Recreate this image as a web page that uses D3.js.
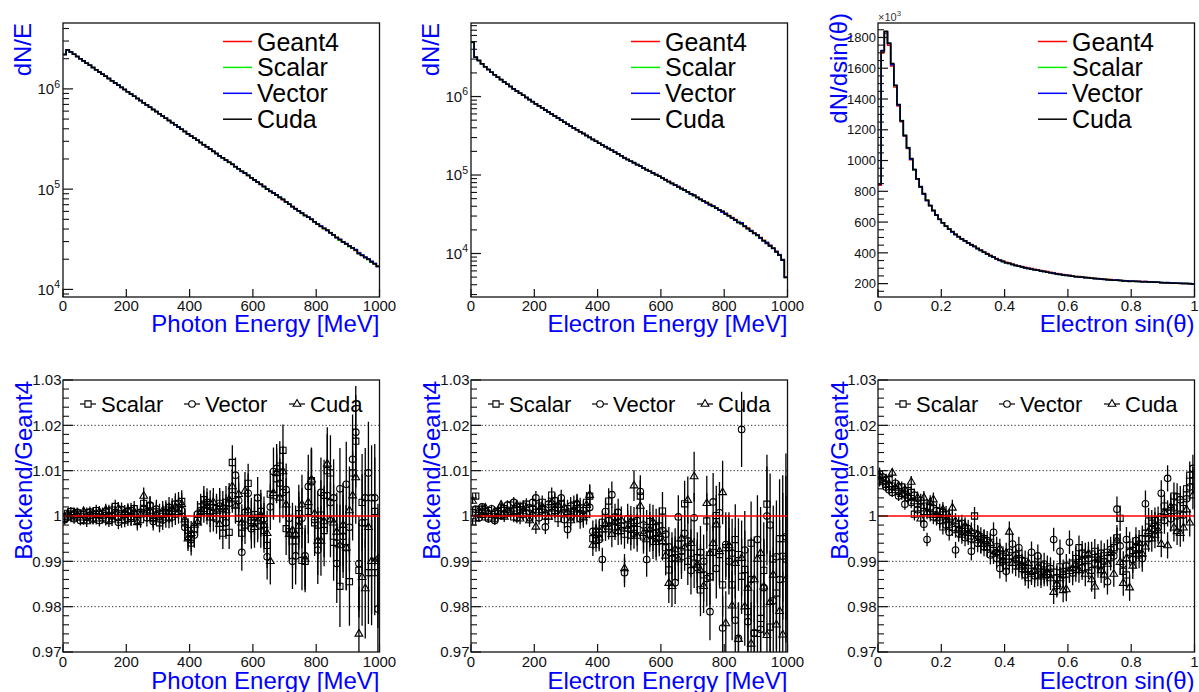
<!DOCTYPE html>
<html>
<head>
<meta charset="utf-8">
<script src="https://cdn.jsdelivr.net/npm/d3@7"></script>
<style>
  body { margin: 0; background: #fff; }
  svg { display: block; font-family: "Liberation Sans", Arial, Helvetica, sans-serif; }
</style>
</head>
<body>
<svg id="chart" width="1199" height="692"></svg>
<script>
// ---- data (100 bins per histogram) ----
const backends = ['Scalar', 'Vector', 'Cuda'];
const histSeries = ['Geant4', 'Scalar', 'Vector', 'Cuda'];
const energyRange = [0, 1000];   // MeV
const sinRange = [0, 1];

// Geant4 spectra, counts per bin in thousands
const photonG4k = [
  2200, 2450, 2329, 2214, 2104, 2000, 1901, 1807, 1718, 1633,
  1553, 1476, 1403, 1334, 1268, 1205, 1146, 1089, 1035, 984,
  936, 889, 845, 804, 764, 726, 690, 656, 624, 593,
  564, 536, 509, 484, 460, 438, 416, 395, 376, 357,
  340, 323, 307, 292, 277, 264, 251, 238, 227, 215,
  205, 195, 185, 176, 167, 159, 151, 144, 137, 130,
  123.6, 117.5, 111.7, 106.2, 100.9, 95.9, 91.2, 86.7, 82.4, 78.3,
  74.5, 70.8, 67.3, 64.0, 60.8, 57.8, 55.0, 52.3, 49.7, 47.2,
  44.9, 42.7, 40.6, 38.6, 36.7, 34.9, 33.1, 31.5, 29.9, 28.5,
  27.1, 25.7, 24.5, 23.3, 22.1, 21.0, 20.0, 19.0, 18.1, 17.2];
const electronG4k = [
  4900, 3160, 2870, 2620, 2400, 2210, 2040, 1890, 1760, 1640,
  1530, 1430, 1340, 1250, 1170, 1100, 1035, 973, 914, 859,
  807, 760, 716, 675, 635, 598, 564, 531, 500, 471,
  444, 420, 397, 376, 356, 337, 318, 301, 285, 270,
  255, 242, 230, 218, 207, 196, 186, 176, 167, 158,
  150, 142.9, 136.1, 129.6, 123.4, 117.5, 111.9, 106.6, 101.5, 96.7,
  92.1, 87.5, 83.1, 78.9, 74.9, 71.2, 67.6, 64.2, 61.0, 57.9,
  55.0, 52.2, 49.5, 47.0, 44.6, 42.3, 40.1, 38.1, 36.1, 34.3,
  32.5, 30.5, 28.8, 27.1, 25.6, 24.1, 22.5, 21.1, 19.7, 18.4,
  17.3, 16.0, 14.8, 13.8, 12.7, 11.8, 10.7, 9.7, 8.4, 5.0];
const sinThetaG4k = [
  840, 1700, 1825, 1750, 1615, 1478, 1355, 1252, 1158, 1078,
  1005, 938, 878, 828, 783, 742, 706, 674, 645, 618,
  595, 574, 555, 537, 521, 506, 492, 479, 466, 454,
  443, 430, 418, 406, 395, 384, 374, 364, 355, 347,
  339, 333, 327, 321, 316, 311, 306, 302, 298, 294,
  290, 286, 282, 278, 274, 270, 266, 263, 260, 257,
  254, 251, 248, 246, 244, 242, 240, 238, 236, 234,
  232, 230, 228, 226, 224, 223, 222, 221, 219, 218,
  217, 216, 215, 214, 213, 212, 211, 210, 209, 207,
  206, 205, 204, 203, 203, 202, 201, 200, 199, 196];

// Backend / Geant4 ratios
const photonScalar = [
  0.9995, 1.0006, 1.0010, 1.0002, 0.9998, 1.0004, 0.9992, 1.0007, 1.0001, 0.9993,
  1.0012, 1.0003, 0.9996, 1.0009, 0.9990, 1.0013, 1.0021, 0.9997, 1.0006, 0.9991,
  1.0010, 0.9995, 1.0016, 1.0004, 0.9992, 1.0028, 1.0006, 1.0022, 0.9994, 1.0009,
  0.9985, 1.0004, 1.0013, 0.9996, 1.0010, 1.0026, 1.0018, 1.0032, 0.9985, 0.9955,
  0.9948, 0.9972, 0.9990, 1.0020, 1.0036, 1.0012, 1.0025, 0.9998, 1.0016, 1.0028,
  0.9962, 1.0030, 0.9964, 1.0118, 1.0026, 0.9995, 0.9962, 0.9980, 1.0072, 0.9990,
  1.0003, 0.9996, 1.0010, 0.9968, 0.9935, 1.0048, 1.0045, 1.0082, 1.0110, 1.0145,
  0.9972, 0.9965, 0.9945, 0.9945, 1.0005, 0.9902, 0.9900, 1.0010, 1.0078, 0.9985,
  0.9980, 1.0002, 0.9968, 1.0100, 1.0095, 0.9942, 0.9940, 0.9845, 0.9968, 0.9930,
  0.9855, 1.0095, 1.0165, 0.9880, 1.0030, 0.9985, 0.9875, 0.9875, 1.0010, 0.9875];
const photonVector = [
  0.9992, 0.9998, 1.0002, 0.9994, 1.0008, 0.9990, 1.0003, 0.9997, 1.0009, 0.9995,
  1.0004, 0.9990, 1.0006, 0.9993, 1.0011, 1.0000, 1.0007, 0.9986, 1.0014, 1.0003,
  0.9994, 1.0012, 1.0005, 0.9990, 1.0008, 1.0017, 0.9996, 1.0024, 0.9988, 1.0015,
  1.0006, 0.9991, 1.0008, 1.0019, 0.9998, 1.0004, 1.0028, 1.0012, 0.9975, 0.9968,
  0.9940, 0.9958, 1.0004, 1.0012, 1.0026, 1.0030, 1.0008, 1.0019, 0.9994, 1.0022,
  1.0004, 0.9985, 1.0028, 1.0045, 1.0090, 1.0034, 0.9920, 1.0008, 1.0050, 0.9972,
  0.9985, 1.0040, 0.9978, 0.9994, 0.9910, 1.0020, 1.0098, 1.0105, 1.0072, 1.0052,
  1.0058, 0.9995, 0.9900, 0.9912, 0.9990, 0.9995, 0.9912, 1.0065, 1.0075, 0.9992,
  0.9925, 1.0052, 1.0045, 1.0045, 1.0030, 1.0040, 0.9895, 1.0060, 0.9955, 1.0070,
  0.9975, 1.0125, 1.0185, 0.9895, 0.9985, 1.0040, 1.0095, 1.0040, 1.0040, 0.9795];
const photonCuda = [
  0.9998, 1.0004, 0.9996, 1.0007, 1.0002, 0.9996, 1.0010, 0.9988, 1.0003, 1.0006,
  0.9994, 1.0009, 0.9999, 1.0013, 1.0002, 0.9992, 1.0005, 1.0016, 0.9990, 1.0008,
  1.0012, 0.9997, 1.0009, 0.9986, 1.0003, 1.0044, 1.0012, 1.0010, 0.9995, 1.0003,
  0.9992, 1.0011, 0.9996, 1.0007, 1.0016, 1.0020, 1.0008, 1.0026, 0.9992, 0.9950,
  0.9962, 0.9980, 0.9985, 1.0008, 1.0015, 1.0022, 0.9996, 1.0030, 1.0011, 0.9982,
  1.0020, 1.0012, 1.0036, 1.0065, 1.0022, 1.0048, 0.9985, 1.0055, 1.0012, 0.9996,
  0.9975, 0.9988, 1.0002, 0.9980, 0.9962, 0.9900, 1.0050, 1.0095, 1.0040, 1.0098,
  1.0025, 0.9960, 0.9968, 0.9960, 0.9978, 1.0025, 0.9905, 1.0030, 1.0080, 1.0005,
  0.9945, 0.9945, 0.9988, 1.0115, 0.9992, 0.9985, 0.9965, 0.9935, 0.9980, 0.9930,
  1.0012, 1.0045, 1.0085, 0.9740, 0.9865, 0.9840, 0.9975, 0.9900, 0.9900, 0.9905];
const photonErr = [
  .0011, .0010, .0010, .0011, .0011, .0011, .0011, .0012, .0012, .0012,
  .0013, .0013, .0013, .0014, .0014, .0014, .0015, .0015, .0016, .0016,
  .0016, .0017, .0017, .0018, .0018, .0019, .0019, .0020, .0020, .0021,
  .0021, .0022, .0022, .0023, .0023, .0024, .0025, .0025, .0026, .0027,
  .0027, .0028, .0029, .0029, .0030, .0031, .0032, .0032, .0033, .0034,
  .0035, .0036, .0037, .0038, .0039, .0040, .0041, .0042, .0043, .0044,
  .0045, .0046, .0048, .0049, .0050, .0051, .0053, .0054, .0055, .0057,
  .0058, .0060, .0061, .0063, .0064, .0066, .0068, .0070, .0071, .0073,
  .0075, .0077, .0079, .0081, .0083, .0085, .0087, .0090, .0092, .0094,
  .0097, .0099, .0102, .0104, .0107, .0110, .0113, .0116, .0119, .0122];

const electronScalar = [
  0.9987, 1.0044, 1.0006, 1.0015, 0.9998, 1.0012, 1.0004, 0.9994, 1.0010, 1.0002,
  1.0016, 1.0006, 1.0024, 0.9998, 1.0012, 1.0020, 1.0004, 1.0026, 0.9996, 1.0014,
  1.0008, 1.0022, 1.0030, 1.0000, 1.0018, 1.0046, 1.0012, 0.9994, 1.0026, 1.0008,
  1.0016, 0.9998, 1.0024, 1.0006, 1.0018, 1.0000, 1.0030, 1.0044, 0.9950, 0.9946,
  0.9964, 0.9986, 0.9972, 1.0033, 0.9992, 0.9976, 0.9986, 0.9968, 0.9960, 0.9980,
  0.9958, 0.9986, 0.9970, 1.0044, 0.9954, 0.9975, 0.9988, 0.9962, 0.9950, 0.9978,
  1.0011, 0.9930, 0.9881, 0.9918, 0.9908, 0.9938, 0.9910, 1.0027, 0.9900, 0.9918,
  0.9896, 0.9908, 0.9837, 0.9870, 0.9989, 0.9866, 0.9920, 1.0001, 0.9915, 0.9848,
  0.9930, 0.9930, 0.9848, 0.9948, 0.9915, 0.9867, 0.9882, 0.9789, 0.9940, 0.9741,
  0.9741, 0.9774, 0.9880, 1.0026, 0.9755, 0.9905, 0.9830, 0.9950, 0.9950, 0.9905];
const electronVector = [
  1.0008, 1.0015, 0.9996, 1.0020, 1.0010, 0.9994, 1.0016, 0.9990, 1.0006, 1.0018,
  1.0004, 1.0024, 1.0010, 1.0030, 0.9996, 1.0014, 1.0022, 1.0006, 1.0018, 1.0030,
  1.0040, 0.9996, 1.0014, 0.9976, 1.0026, 1.0008, 1.0034, 1.0018, 1.0040, 0.9992,
  0.9970, 1.0022, 1.0008, 1.0026, 0.9994, 1.0012, 1.0004, 1.0019, 0.9966, 0.9958,
  0.9948, 0.9904, 1.0010, 0.9990, 1.0047, 0.9998, 1.0008, 0.9978, 0.9875, 0.9994,
  0.9970, 0.9962, 0.9990, 1.0054, 0.9980, 0.9904, 0.9960, 0.9944, 0.9976, 0.9952,
  0.9968, 0.9960, 0.9932, 0.9906, 0.9853, 0.9998, 0.9922, 0.9962, 0.9945, 0.9880,
  0.9996, 0.9886, 0.9920, 0.9900, 0.9862, 0.9789, 1.0031, 0.9884, 1.0007, 0.9753,
  0.9937, 0.9900, 0.9918, 0.9770, 0.9730, 1.0191, 0.9925, 0.9767, 0.9860, 0.9742,
  0.9948, 0.9750, 0.9842, 1.0000, 0.9980, 0.9813, 0.9910, 0.9860, 0.9911, 0.9954];
const electronCuda = [
  1.0033, 0.9994, 1.0012, 1.0002, 1.0018, 1.0006, 0.9996, 1.0010, 1.0000, 1.0024,
  0.9998, 1.0012, 1.0006, 1.0016, 1.0024, 0.9994, 1.0010, 1.0018, 0.9990, 1.0004,
  0.9976, 1.0012, 1.0020, 1.0006, 0.9998, 1.0030, 1.0016, 1.0024, 1.0004, 1.0018,
  1.0008, 0.9990, 1.0014, 1.0028, 1.0006, 0.9996, 1.0024, 1.0046, 0.9936, 0.9968,
  0.9952, 0.9970, 0.9982, 0.9976, 0.9960, 0.9986, 0.9966, 0.9990, 0.9884, 0.9972,
  0.9988, 1.0067, 0.9956, 1.0022, 0.9962, 0.9948, 0.9970, 0.9986, 0.9942, 0.9960,
  0.9944, 0.9912, 0.9852, 0.9845, 0.9926, 0.9904, 0.9950, 0.9930, 1.0035, 0.9940,
  1.0087, 0.9892, 0.9880, 0.9845, 1.0028, 0.9918, 0.9940, 0.9981, 0.9922, 1.0052,
  0.9763, 0.9935, 0.9802, 0.9896, 0.9728, 0.9907, 0.9800, 0.9841, 0.9718, 0.9860,
  0.9905, 0.9918, 0.9844, 0.9737, 0.9810, 0.9870, 0.9760, 0.9790, 0.9738, 0.9860];
const electronErr = [
  .0006, .0007, .0008, .0008, .0008, .0009, .0009, .0010, .0010, .0010,
  .0011, .0011, .0011, .0012, .0012, .0012, .0013, .0013, .0014, .0014,
  .0015, .0015, .0015, .0016, .0016, .0017, .0017, .0018, .0018, .0019,
  .0020, .0020, .0021, .0021, .0022, .0022, .0023, .0024, .0024, .0025,
  .0026, .0026, .0027, .0028, .0029, .0029, .0030, .0031, .0032, .0033,
  .0034, .0034, .0035, .0036, .0037, .0038, .0039, .0039, .0040, .0041,
  .0042, .0043, .0044, .0046, .0047, .0048, .0049, .0051, .0052, .0053,
  .0055, .0056, .0058, .0059, .0061, .0063, .0064, .0066, .0068, .0070,
  .0071, .0073, .0076, .0078, .0080, .0083, .0086, .0088, .0092, .0095,
  .0098, .0102, .0106, .0109, .0114, .0118, .0124, .0131, .0140, .0184];

const sinScalar = [
  1.0092, 1.0078, 1.0070, 1.0080, 1.0066, 1.0058, 1.0054, 1.0064, 1.0048, 1.0056,
  1.0052, 1.0004, 1.0026, 1.0018, 1.0010, 1.0022, 1.0004, 1.0016, 0.9996, 1.0010,
  0.9976, 1.0004, 0.9982, 0.9992, 0.9970, 0.9982, 0.9966, 0.9974, 0.9956, 0.9950,
  1.0000, 0.9958, 0.9940, 0.9950, 0.9932, 0.9942, 0.9924, 0.9932, 0.9914, 0.9910,
  0.9890, 0.9898, 0.9912, 0.9890, 0.9906, 0.9884, 0.9900, 0.9864, 0.9878, 0.9892,
  0.9870, 0.9890, 0.9876, 0.9888, 0.9872, 0.9876, 0.9864, 0.9888, 0.9878, 0.9872,
  0.9880, 0.9896, 0.9906, 0.9930, 0.9918, 0.9902, 0.9888, 0.9916, 0.9922, 0.9910,
  0.9894, 0.9912, 0.9920, 0.9908, 0.9930, 0.9952, 0.9995, 0.9878, 0.9870, 0.9936,
  0.9924, 0.9930, 0.9914, 0.9950, 0.9962, 0.9989, 0.9984, 0.9980, 0.9992, 0.9998,
  1.0022, 1.0006, 1.0012, 1.0044, 1.0042, 1.0004, 1.0030, 1.0060, 1.0090, 1.0078];
const sinVector = [
  1.0080, 1.0086, 1.0064, 1.0058, 1.0052, 1.0072, 1.0044, 1.0050, 1.0026, 1.0040,
  1.0030, 1.0046, 1.0014, 1.0034, 0.9982, 0.9948, 1.0020, 0.9998, 1.0012, 0.9990,
  1.0008, 0.9980, 0.9964, 0.9974, 0.9925, 0.9962, 0.9984, 0.9952, 0.9972, 0.9922,
  0.9962, 0.9940, 0.9954, 0.9932, 0.9946, 0.9914, 0.9964, 0.9906, 0.9884, 0.9900,
  0.9878, 0.9920, 0.9938, 0.9914, 0.9930, 0.9902, 0.9870, 0.9884, 0.9920, 0.9868,
  0.9912, 0.9872, 0.9894, 0.9870, 0.9884, 0.9948, 0.9846, 0.9922, 0.9870, 0.9890,
  0.9942, 0.9874, 0.9882, 0.9898, 0.9886, 0.9914, 0.9906, 0.9880, 0.9896, 0.9892,
  0.9918, 0.9900, 0.9855, 0.9926, 0.9912, 1.0015, 0.9934, 0.9894, 0.9948, 0.9920,
  0.9904, 0.9946, 0.9930, 0.9906, 1.0027, 0.9950, 0.9972, 0.9990, 0.9974, 1.0050,
  0.9990, 1.0083, 0.9994, 1.0018, 1.0000, 1.0036, 1.0002, 1.0038, 1.0064, 1.0105];
const sinCuda = [
  1.0088, 1.0074, 1.0082, 1.0070, 1.0095, 1.0062, 1.0066, 1.0048, 1.0058, 1.0044,
  1.0075, 1.0032, 1.0040, 0.9994, 1.0040, 1.0008, 1.0030, 1.0036, 1.0002, 0.9996,
  1.0014, 0.9990, 0.9998, 1.0018, 0.9988, 0.9970, 0.9958, 0.9978, 0.9962, 0.9966,
  0.9946, 0.9960, 0.9938, 0.9948, 0.9930, 0.9940, 0.9916, 0.9920, 0.9928, 0.9902,
  0.9918, 0.9965, 0.9896, 0.9906, 0.9888, 0.9892, 0.9880, 0.9896, 0.9872, 0.9878,
  0.9888, 0.9866, 0.9870, 0.9876, 0.9862, 0.9832, 0.9850, 0.9862, 0.9836, 0.9838,
  0.9878, 0.9884, 0.9892, 0.9880, 0.9904, 0.9872, 0.9916, 0.9860, 0.9844, 0.9904,
  0.9880, 0.9870, 0.9894, 0.9918, 0.9872, 0.9946, 0.9898, 0.9852, 0.9906, 0.9842,
  0.9890, 0.9916, 0.9940, 0.9916, 0.9932, 0.9966, 0.9950, 0.9958, 0.9968, 0.9938,
  1.0008, 0.9935, 1.0020, 0.9974, 0.9966, 0.9962, 0.9974, 1.0014, 0.9985, 1.0045];
const sinErr = [
  .0015, .0010, .0010, .0010, .0010, .0011, .0011, .0012, .0012, .0013,
  .0013, .0014, .0014, .0015, .0015, .0015, .0016, .0016, .0017, .0017,
  .0017, .0018, .0018, .0018, .0018, .0019, .0019, .0019, .0020, .0020,
  .0020, .0020, .0021, .0021, .0021, .0021, .0022, .0022, .0022, .0023,
  .0023, .0023, .0023, .0023, .0024, .0024, .0024, .0024, .0024, .0025,
  .0025, .0025, .0025, .0025, .0025, .0026, .0026, .0026, .0026, .0026,
  .0026, .0027, .0027, .0027, .0027, .0027, .0027, .0027, .0027, .0028,
  .0028, .0028, .0028, .0028, .0028, .0028, .0028, .0028, .0028, .0029,
  .0029, .0029, .0029, .0029, .0029, .0029, .0029, .0029, .0029, .0029,
  .0029, .0029, .0029, .0030, .0030, .0030, .0030, .0030, .0030, .0030];

// ---- layout ----
const svg = d3.select('#chart');
svg.append('rect').attr('width', 1199).attr('height', 692).attr('fill', '#fff');

const frameLefts = [63, 471, 878];
const frameW = 316.5;
const topRow = {top: 23, bottom: 297, xLabelY: 311, xTitleY: 332};
const botRow = {top: 380, bottom: 652, xLabelY: 667, xTitleY: 689};
const yTitleX = [31, 439, 847];
const blue = '#0000ff';
const ink = '#111';
const histColor = {Geant4: '#ff0000', Scalar: '#00ee00', Vector: '#0000ff', Cuda: '#000000'};
const markerType = {Scalar: d3.symbolSquare, Vector: d3.symbolCircle, Cuda: d3.symbolTriangle};
const markerSize = {Scalar: 38, Vector: 34, Cuda: 26};

function binEdges(range, n) {
  return d3.range(n + 1).map(i => range[0] + (range[1] - range[0]) * i / n);
}

function supText(sel, base, exp, size) {
  sel.append('tspan').text(base);
  sel.append('tspan').attr('dy', -size * 0.45).attr('font-size', size * 0.7).text(exp);
}

// frame, ticks, tick labels, axis titles
function drawAxes(g, x, y, o) {
  const [l, r] = x.range(), [b, t] = y.range();
  o.xTicks.forEach(v => {
    g.append('line').attr('x1', x(v)).attr('x2', x(v)).attr('y1', b).attr('y2', b - 8)
      .attr('stroke', ink).attr('stroke-width', 1.2);
    g.append('text').attr('x', x(v)).attr('y', o.row.xLabelY).attr('text-anchor', 'middle')
      .attr('font-size', 15).attr('fill', ink).text(o.xFmt(v));
  });
  o.yMinor.forEach(v => {
    g.append('line').attr('x1', l).attr('x2', l + 6).attr('y1', y(v)).attr('y2', y(v))
      .attr('stroke', ink).attr('stroke-width', 1.1);
  });
  o.yMajor.forEach(v => {
    g.append('line').attr('x1', l).attr('x2', l + 10).attr('y1', y(v)).attr('y2', y(v))
      .attr('stroke', ink).attr('stroke-width', 1.2);
    const txt = g.append('text').attr('x', l - o.yLabelGap).attr('y', y(v) + o.yLabelSize * 0.36)
      .attr('text-anchor', 'end').attr('font-size', o.yLabelSize).attr('fill', ink);
    o.yLabel(txt, v);
  });
  g.append('rect').attr('x', l).attr('y', t).attr('width', r - l).attr('height', b - t)
    .attr('fill', 'none').attr('stroke', ink).attr('stroke-width', 1.3);

  g.append('text').attr('x', r).attr('y', o.row.xTitleY).attr('text-anchor', 'end')
    .attr('font-size', 24).attr('fill', blue).text(o.xTitle);
  g.append('text').attr('transform', `translate(${o.yTitleX},${o.yTitleTop}) rotate(-90)`)
    .attr('text-anchor', 'end').attr('font-size', 24).attr('fill', blue).text(o.yTitle);
}

class HistPanel {
  constructor(_config, _data) {
    this.config = _config;
    this.data = _data;
    this.initVis();
  }

  initVis() {
    let vis = this;
    const c = vis.config;
    vis.x = d3.scaleLinear().domain(c.xRange).range([c.left, c.left + frameW]);
    vis.y = (c.log ? d3.scaleLog() : d3.scaleLinear()).domain(c.yDomain).range([topRow.bottom, topRow.top]);
    vis.g = svg.append('g');
    vis.renderVis();
  }

  renderVis() {
    let vis = this;
    const c = vis.config;
    const n = vis.data.g4.length;
    const edges = binEdges(c.xRange, n);
    const line = d3.line().x(d => vis.x(d[0])).y(d => vis.y(d[1])).curve(d3.curveStepAfter);

    // backend spectra = Geant4 x (backend/Geant4)
    const series = histSeries.map(name => {
      const vals = vis.data.g4.map((v, i) => v * c.scale * (name === 'Geant4' ? 1 : vis.data.ratio[name][i]));
      const pts = vals.map((v, i) => [edges[i], v]);
      pts.push([edges[n], vals[n - 1]]);
      return {name, pts};
    });

    vis.g.selectAll('.hist')
      .data(series)
      .join('path')
      .attr('class', 'hist')
      .attr('d', d => line(d.pts))
      .attr('fill', 'none')
      .attr('stroke', d => histColor[d.name])
      .attr('stroke-width', 1.5);

    drawAxes(vis.g, vis.x, vis.y, {
      row: topRow,
      xTicks: c.xTicks, xFmt: c.xFmt,
      yMajor: c.yMajor, yMinor: c.yMinor,
      yLabel: c.yLabel, yLabelSize: c.yLabelSize, yLabelGap: c.yLabelGap,
      xTitle: c.xTitle, yTitle: c.yTitle,
      yTitleX: c.yTitleX, yTitleTop: c.yTitleTop
    });

    // legend
    const lg = vis.g.append('g');
    histSeries.forEach((name, i) => {
      const ly = 41.5 + i * 25.9;
      lg.append('line').attr('x1', c.left + 160).attr('x2', c.left + 189).attr('y1', ly).attr('y2', ly)
        .attr('stroke', histColor[name]).attr('stroke-width', 1.5);
      lg.append('text').attr('x', c.left + 194).attr('y', ly + 9).attr('font-size', 25)
        .attr('fill', '#000').text(name);
    });
  }
}

class RatioPanel {
  constructor(_config, _data) {
    this.config = _config;
    this.data = _data;
    this.initVis();
  }

  initVis() {
    let vis = this;
    const c = vis.config;
    vis.x = d3.scaleLinear().domain(c.xRange).range([c.left, c.left + frameW]);
    vis.y = d3.scaleLinear().domain([0.97, 1.03]).range([botRow.bottom, botRow.top]);
    vis.g = svg.append('g');
    vis.clipId = 'clip' + c.left;
    vis.g.append('clipPath').attr('id', vis.clipId).append('rect')
      .attr('x', c.left).attr('y', botRow.top).attr('width', frameW).attr('height', botRow.bottom - botRow.top);
    vis.renderVis();
  }

  renderVis() {
    let vis = this;
    const c = vis.config;
    const n = vis.data.err.length;
    const edges = binEdges(c.xRange, n);
    const centers = d3.range(n).map(i => (edges[i] + edges[i + 1]) / 2);

    // dotted grid
    [0.98, 0.99, 1.01, 1.02].forEach(v => {
      vis.g.append('line').attr('x1', c.left).attr('x2', c.left + frameW).attr('y1', vis.y(v)).attr('y2', vis.y(v))
        .attr('stroke', '#333').attr('stroke-width', 1).attr('stroke-dasharray', '1.3,2.2');
    });

    const plot = vis.g.append('g').attr('clip-path', `url(#${vis.clipId})`);
    backends.forEach(name => {
      const pts = vis.data.ratio[name].map((r, i) => ({x: centers[i], r, e: vis.data.err[i]}));
      plot.append('g').selectAll('line')
        .data(pts)
        .join('line')
        .attr('x1', d => vis.x(d.x)).attr('x2', d => vis.x(d.x))
        .attr('y1', d => vis.y(d.r - d.e)).attr('y2', d => vis.y(d.r + d.e))
        .attr('stroke', '#000').attr('stroke-width', 1.3);
      plot.append('g').selectAll('path')
        .data(pts)
        .join('path')
        .attr('transform', d => `translate(${vis.x(d.x)},${vis.y(d.r)})`)
        .attr('d', d3.symbol(markerType[name], markerSize[name]))
        .attr('fill', 'none').attr('stroke', '#000').attr('stroke-width', 1.1);
    });

    // reference line
    vis.g.append('line').attr('x1', c.left).attr('x2', c.left + frameW).attr('y1', vis.y(1)).attr('y2', vis.y(1))
      .attr('stroke', '#ff0000').attr('stroke-width', 1.6);

    const major = d3.range(7).map(i => +(0.97 + i * 0.01).toFixed(2));
    const minor = d3.range(31).filter(i => i % 5 !== 0).map(i => 0.97 + i * 0.002);
    drawAxes(vis.g, vis.x, vis.y, {
      row: botRow,
      xTicks: c.xTicks, xFmt: c.xFmt,
      yMajor: major, yMinor: minor,
      yLabel: (t, v) => t.text(String(+v.toFixed(2))), yLabelSize: 15, yLabelGap: 1.5,
      xTitle: c.xTitle, yTitle: 'Backend/Geant4',
      yTitleX: c.yTitleX + 1, yTitleTop: 381
    });

    // legend
    const ly = 404;
    const legendPos = {Scalar: [25, 38], Vector: [129, 142], Cuda: [234, 247]};
    backends.forEach(name => {
      const [mx, tx] = legendPos[name];
      vis.g.append('line').attr('x1', c.left + mx - 8).attr('x2', c.left + mx + 8).attr('y1', ly).attr('y2', ly)
        .attr('stroke', '#000').attr('stroke-width', 1.2);
      vis.g.append('path').attr('transform', `translate(${c.left + mx},${ly})`)
        .attr('d', d3.symbol(markerType[name], markerSize[name]))
        .attr('fill', '#fff').attr('stroke', '#000').attr('stroke-width', 1.1);
      vis.g.append('text').attr('x', c.left + tx).attr('y', ly + 8).attr('font-size', 22)
        .attr('fill', '#000').text(name);
    });
  }
}

// ---- panels ----
const energyTicks = [0, 200, 400, 600, 800, 1000];
const sinTicks = [0, 0.2, 0.4, 0.6, 0.8, 1];
const energyFmt = d3.format('d');
const sinFmt = v => String(+v.toFixed(1));

function logTicks(domain) {
  const major = [], minor = [];
  for (let e = 3; e <= 7; e++) {
    for (let k = 1; k <= 9; k++) {
      const v = k * Math.pow(10, e);
      if (v < domain[0] || v > domain[1]) continue;
      (k === 1 ? major : minor).push(v);
    }
  }
  return {major, minor};
}
const logLabel = (t, v) => supText(t, '10', String(Math.round(Math.log10(v))), 15);

const photonDomain = [8.4e3, 4.54e6];
const electronDomain = [2.79e3, 8.65e6];
const pT = logTicks(photonDomain), eT = logTicks(electronDomain);

new HistPanel({
  left: frameLefts[0], xRange: energyRange, log: true, yDomain: photonDomain, scale: 1e3,
  xTicks: energyTicks, xFmt: energyFmt, yMajor: pT.major, yMinor: pT.minor,
  yLabel: logLabel, yLabelSize: 15, yLabelGap: 3,
  xTitle: 'Photon Energy [MeV]', yTitle: 'dN/E', yTitleX: yTitleX[0], yTitleTop: 23
}, {g4: photonG4k, ratio: {Scalar: photonScalar, Vector: photonVector, Cuda: photonCuda}});

new HistPanel({
  left: frameLefts[1], xRange: energyRange, log: true, yDomain: electronDomain, scale: 1e3,
  xTicks: energyTicks, xFmt: energyFmt, yMajor: eT.major, yMinor: eT.minor,
  yLabel: logLabel, yLabelSize: 15, yLabelGap: 3,
  xTitle: 'Electron Energy [MeV]', yTitle: 'dN/E', yTitleX: yTitleX[1], yTitleTop: 23
}, {g4: electronG4k, ratio: {Scalar: electronScalar, Vector: electronVector, Cuda: electronCuda}});

new HistPanel({
  left: frameLefts[2], xRange: sinRange, log: false, yDomain: [113, 1894], scale: 1,
  xTicks: sinTicks, xFmt: sinFmt,
  yMajor: d3.range(200, 1801, 200), yMinor: d3.range(150, 1894, 50).filter(v => v % 200 !== 0),
  yLabel: (t, v) => t.text(v), yLabelSize: 13, yLabelGap: 2,
  xTitle: 'Electron sin(\u03b8)', yTitle: 'dN/dsin(\u03b8)', yTitleX: yTitleX[2], yTitleTop: 13
}, {g4: sinThetaG4k, ratio: {Scalar: sinScalar, Vector: sinVector, Cuda: sinCuda}});

// x10^3 multiplier on the sin(theta) spectrum
supText(svg.append('text').attr('x', frameLefts[2]).attr('y', 21).attr('font-size', 11).attr('fill', '#333'),
  '\u00d710', '3', 11);

new RatioPanel({left: frameLefts[0], xRange: energyRange, xTicks: energyTicks, xFmt: energyFmt,
  xTitle: 'Photon Energy [MeV]', yTitleX: yTitleX[0]},
  {ratio: {Scalar: photonScalar, Vector: photonVector, Cuda: photonCuda}, err: photonErr});
new RatioPanel({left: frameLefts[1], xRange: energyRange, xTicks: energyTicks, xFmt: energyFmt,
  xTitle: 'Electron Energy [MeV]', yTitleX: yTitleX[1]},
  {ratio: {Scalar: electronScalar, Vector: electronVector, Cuda: electronCuda}, err: electronErr});
new RatioPanel({left: frameLefts[2], xRange: sinRange, xTicks: sinTicks, xFmt: sinFmt,
  xTitle: 'Electron sin(\u03b8)', yTitleX: yTitleX[2]},
  {ratio: {Scalar: sinScalar, Vector: sinVector, Cuda: sinCuda}, err: sinErr});
</script>
</body>
</html>
